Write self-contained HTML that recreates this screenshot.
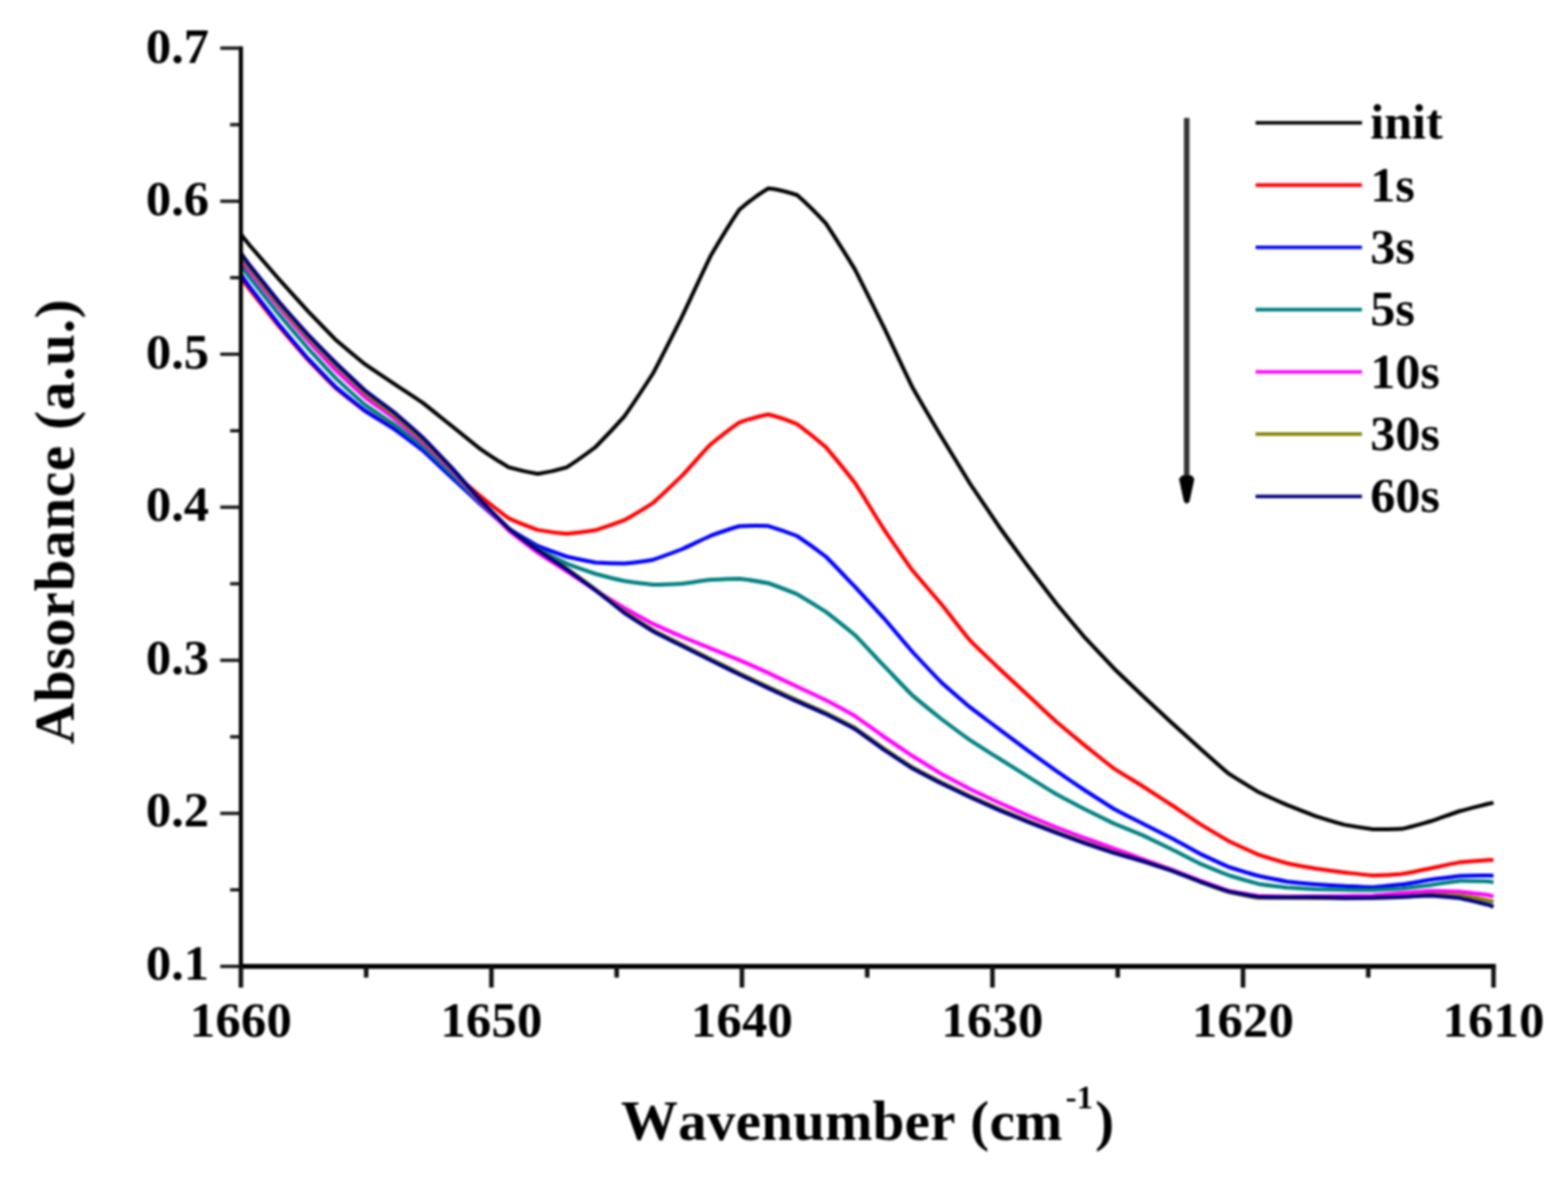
<!DOCTYPE html>
<html lang="en">
<head>
<meta charset="utf-8">
<style>
html,body{margin:0;padding:0;background:#fff;}
body{width:1596px;height:1206px;overflow:hidden;position:relative;}
svg{display:block;position:absolute;left:0;top:0;filter:blur(1.2px);}
text{font-family:"Liberation Serif","DejaVu Serif",serif;font-weight:bold;fill:#000;font-kerning:none;}
.tick{font-size:51.5px;}
.title{font-size:58px;}
.leg{font-size:51px;}
</style>
</head>
<body>
<svg width="1596" height="1206" viewBox="0 0 1596 1206">
<rect x="0" y="0" width="1596" height="1206" fill="#ffffff"/>

<g fill="none" stroke-width="4.0" stroke-linejoin="round" stroke-linecap="butt">
<path stroke="#000000" d="M245.4,238.8C248.3,242.4 251.3,246.1 254.2,249.7C264.0,261.0 273.8,272.4 283.6,283.7C293.3,294.6 303.1,305.4 312.9,316.2C322.7,326.3 332.4,336.5 342.2,346.3C352.0,354.7 361.7,362.8 371.5,370.7C381.3,377.5 391.1,383.8 400.8,390.4C410.6,396.9 420.4,403.2 430.2,409.9C439.9,417.5 449.7,425.5 459.5,433.3C469.3,441.2 479.0,449.3 488.8,456.9C498.6,463.4 508.3,470.1 518.1,475.7C527.9,478.5 537.7,480.8 547.4,482.3C557.2,480.8 567.0,478.6 576.8,475.6C586.5,469.5 596.3,462.4 606.1,455.0C615.9,445.2 625.6,434.9 635.4,423.9C645.2,409.9 654.9,395.3 664.7,380.0C674.5,361.6 684.3,342.0 694.0,322.6C703.8,302.1 713.6,280.3 723.4,260.3C733.1,243.8 742.9,227.6 752.7,213.2C762.5,204.7 772.2,197.5 782.0,191.7C791.8,192.6 801.5,195.2 811.3,198.5C821.1,207.0 830.9,216.8 840.6,227.3C850.4,242.0 860.2,257.8 870.0,273.9C879.7,292.8 889.5,312.7 899.3,332.4C909.1,352.7 918.8,374.0 928.6,394.0C938.4,411.2 948.1,427.4 957.9,444.0C967.7,460.1 977.5,476.2 987.2,492.0C997.0,506.7 1006.8,521.1 1016.6,535.5C1026.3,549.1 1036.1,562.4 1045.9,575.8C1055.7,588.7 1065.4,601.6 1075.2,614.3C1085.0,626.1 1094.7,637.7 1104.5,649.2C1114.3,659.7 1124.1,670.0 1133.8,680.2C1143.6,689.7 1153.4,698.9 1163.2,708.2C1172.9,717.3 1182.7,726.4 1192.5,735.5C1202.3,744.4 1212.0,753.1 1221.8,761.9C1231.6,770.5 1241.3,779.5 1251.1,787.7C1260.9,794.1 1270.7,799.9 1280.4,805.7C1290.2,810.4 1300.0,814.8 1309.8,819.2C1319.5,823.1 1329.3,826.9 1339.1,830.6C1348.9,833.7 1358.6,836.7 1368.4,839.4C1378.2,841.2 1387.9,842.7 1397.7,844.0C1407.5,844.1 1417.3,844.1 1427.0,843.6C1436.8,841.4 1446.6,838.5 1456.4,835.8C1466.1,832.5 1475.9,828.8 1485.7,825.5C1495.5,822.8 1505.2,820.5 1515.0,818.0C1516.7,817.6 1518.5,817.3 1520.2,817.0"/>
<path stroke="#ff0000" d="M245.4,282.5C248.3,286.6 251.3,290.8 254.2,294.8C264.0,307.2 273.8,319.5 283.6,331.7C293.3,343.1 303.1,354.5 312.9,365.6C322.7,375.8 332.4,385.9 342.2,395.5C352.0,403.5 361.7,410.9 371.5,418.3C381.3,424.4 391.1,429.8 400.8,435.8C410.6,442.4 420.4,449.2 430.2,456.1C439.9,463.8 449.7,471.8 459.5,479.7C469.3,488.0 479.0,496.6 488.8,504.9C498.6,512.6 508.3,520.6 518.1,527.6C527.9,532.1 537.7,535.8 547.4,539.4C557.2,541.1 567.0,542.4 576.8,543.3C586.5,542.4 596.3,541.1 606.1,539.6C615.9,536.5 625.6,533.2 635.4,529.4C645.2,523.9 654.9,518.2 664.7,511.8C674.5,503.2 684.3,493.8 694.0,484.4C703.8,473.9 713.6,462.4 723.4,452.2C733.1,444.3 742.9,436.6 752.7,429.9C762.5,426.4 772.2,423.6 782.0,421.8C791.8,424.1 801.5,427.6 811.3,431.6C821.1,438.8 830.9,446.7 840.6,455.1C850.4,466.5 860.2,478.6 870.0,491.2C879.7,506.2 889.5,522.6 899.3,538.0C909.1,552.3 918.8,566.6 928.6,580.3C938.4,592.1 948.1,603.0 957.9,614.6C967.7,626.8 977.5,639.7 987.2,651.6C997.0,661.5 1006.8,670.6 1016.6,680.0C1026.3,689.2 1036.1,698.2 1045.9,707.2C1055.7,716.3 1065.4,725.6 1075.2,734.5C1085.0,742.8 1094.7,750.9 1104.5,758.9C1114.3,766.7 1124.1,774.6 1133.8,782.1C1143.6,788.4 1153.4,794.1 1163.2,800.2C1172.9,806.5 1182.7,812.9 1192.5,819.2C1202.3,825.7 1212.0,832.5 1221.8,838.9C1231.6,844.8 1241.3,850.6 1251.1,856.2C1260.9,860.8 1270.7,865.3 1280.4,869.6C1290.2,872.8 1300.0,875.7 1309.8,878.5C1319.5,880.6 1329.3,882.3 1339.1,884.1C1348.9,885.5 1358.6,886.7 1368.4,887.9C1378.2,889.0 1387.9,890.2 1397.7,891.0C1407.5,890.7 1417.3,890.2 1427.0,889.4C1436.8,887.7 1446.6,885.7 1456.4,883.7C1466.1,881.7 1475.9,879.4 1485.7,877.6C1495.5,876.6 1505.2,876.0 1515.0,875.3C1516.7,875.2 1518.5,875.3 1520.2,875.3"/>
<path stroke="#0000ff" d="M245.4,279.5C248.3,283.7 251.3,288.0 254.2,292.1C264.0,304.8 273.8,317.4 283.6,329.8C293.3,341.5 303.1,352.9 312.9,364.2C322.7,374.5 332.4,384.6 342.2,394.4C352.0,402.6 361.7,410.3 371.5,418.0C381.3,424.4 391.1,430.2 400.8,436.5C410.6,443.7 420.4,450.9 430.2,458.4C439.9,467.3 449.7,476.7 459.5,485.8C469.3,494.9 479.0,504.0 488.8,512.9C498.6,521.4 508.3,530.2 518.1,538.3C527.9,544.5 537.7,550.2 547.4,555.7C557.2,559.6 567.0,563.1 576.8,566.5C586.5,568.7 596.3,570.7 606.1,572.5C615.9,573.1 625.6,573.5 635.4,573.6C645.2,572.5 654.9,571.3 664.7,569.7C674.5,566.4 684.3,562.7 694.0,559.0C703.8,554.5 713.6,549.6 723.4,545.2C733.1,541.7 742.9,538.3 752.7,535.5C762.5,535.0 772.2,534.9 782.0,535.3C791.8,538.2 801.5,541.6 811.3,545.5C821.1,552.0 830.9,559.0 840.6,566.5C850.4,576.2 860.2,586.7 870.0,596.9C879.7,607.5 889.5,618.1 899.3,628.8C909.1,640.2 918.8,652.0 928.6,663.3C938.4,673.8 948.1,684.2 957.9,694.2C967.7,703.0 977.5,711.4 987.2,719.7C997.0,727.2 1006.8,734.4 1016.6,741.8C1026.3,749.0 1036.1,756.3 1045.9,763.6C1055.7,770.6 1065.4,777.7 1075.2,784.7C1085.0,791.4 1094.7,797.9 1104.5,804.5C1114.3,810.8 1124.1,817.1 1133.8,823.2C1143.6,828.4 1153.4,833.3 1163.2,838.3C1172.9,843.2 1182.7,848.0 1192.5,853.0C1202.3,858.3 1212.0,863.9 1221.8,869.1C1231.6,873.7 1241.3,878.3 1251.1,882.5C1260.9,885.7 1270.7,888.5 1280.4,891.3C1290.2,893.4 1300.0,895.4 1309.8,897.2C1319.5,898.2 1329.3,899.1 1339.1,899.9C1348.9,900.6 1358.6,901.2 1368.4,901.8C1378.2,902.3 1387.9,902.9 1397.7,903.1C1407.5,902.4 1417.3,901.2 1427.0,900.1C1436.8,898.6 1446.6,896.8 1456.4,895.2C1466.1,893.9 1475.9,892.5 1485.7,891.4C1495.5,891.1 1505.2,891.1 1515.0,891.0C1516.7,891.0 1518.5,891.1 1520.2,891.2"/>
<path stroke="#008080" d="M245.4,270.5C248.3,274.5 251.3,278.6 254.2,282.5C264.0,294.9 273.8,307.2 283.6,319.4C293.3,331.0 303.1,342.5 312.9,353.8C322.7,364.5 332.4,375.2 342.2,385.4C352.0,394.5 361.7,403.5 371.5,412.0C381.3,418.9 391.1,425.0 400.8,431.6C410.6,439.1 420.4,446.5 430.2,454.3C439.9,463.4 449.7,472.9 459.5,482.3C469.3,491.9 479.0,501.8 488.8,511.4C498.6,520.5 508.3,529.8 518.1,538.6C527.9,545.7 537.7,552.4 547.4,558.8C557.2,564.0 567.0,568.9 576.8,573.6C586.5,577.3 596.3,580.7 606.1,584.0C615.9,586.6 625.6,589.1 635.4,591.3C645.2,592.7 654.9,594.0 664.7,595.0C674.5,594.9 684.3,594.5 694.0,594.0C703.8,592.8 713.6,591.2 723.4,590.0C733.1,589.5 742.9,589.0 752.7,588.9C762.5,590.2 772.2,591.6 782.0,593.5C791.8,596.9 801.5,600.7 811.3,604.7C821.1,610.4 830.9,616.4 840.6,622.6C850.4,630.2 860.2,638.0 870.0,646.2C879.7,656.1 889.5,666.9 899.3,677.2C909.1,687.3 918.8,697.8 928.6,707.6C938.4,715.9 948.1,723.7 957.9,731.5C967.7,738.9 977.5,746.2 987.2,753.2C997.0,759.6 1006.8,765.6 1016.6,771.8C1026.3,777.9 1036.1,784.0 1045.9,790.1C1055.7,796.2 1065.4,802.3 1075.2,808.3C1085.0,813.6 1094.7,818.7 1104.5,823.8C1114.3,828.6 1124.1,833.4 1133.8,838.1C1143.6,842.2 1153.4,846.0 1163.2,850.1C1172.9,854.7 1182.7,859.6 1192.5,864.3C1202.3,869.2 1212.0,874.3 1221.8,879.1C1231.6,883.2 1241.3,887.2 1251.1,891.0C1260.9,894.0 1270.7,896.8 1280.4,899.4C1290.2,900.9 1300.0,902.0 1309.8,903.2C1319.5,903.9 1329.3,904.4 1339.1,904.9C1348.9,905.2 1358.6,905.4 1368.4,905.6C1378.2,905.7 1387.9,905.8 1397.7,905.8C1407.5,905.3 1417.3,904.8 1427.0,904.2C1436.8,903.1 1446.6,901.9 1456.4,900.7C1466.1,899.3 1475.9,897.6 1485.7,896.4C1495.5,896.3 1505.2,896.7 1515.0,897.0C1516.7,897.1 1518.5,897.5 1520.2,897.7"/>
<path stroke="#ff00ff" d="M245.4,264.5C248.3,268.4 251.3,272.3 254.2,276.2C264.0,288.2 273.8,300.3 283.6,312.2C293.3,323.6 303.1,334.9 312.9,346.1C322.7,356.7 332.4,367.2 342.2,377.4C352.0,386.6 361.7,395.6 371.5,404.3C381.3,411.6 391.1,418.2 400.8,425.4C410.6,433.5 420.4,441.7 430.2,450.1C439.9,459.5 449.7,469.0 459.5,478.7C469.3,489.1 479.0,499.9 488.8,510.4C498.6,520.4 508.3,530.6 518.1,540.2C527.9,548.0 537.7,555.2 547.4,562.5C557.2,568.9 567.0,574.9 576.8,581.2C586.5,587.7 596.3,594.3 606.1,600.8C615.9,606.8 625.6,612.8 635.4,618.7C645.2,624.2 654.9,629.6 664.7,634.9C674.5,639.4 684.3,643.7 694.0,648.0C703.8,652.0 713.6,655.9 723.4,659.8C733.1,663.8 742.9,667.7 752.7,671.8C762.5,676.1 772.2,680.5 782.0,684.9C791.8,689.5 801.5,694.2 811.3,698.8C821.1,703.4 830.9,707.9 840.6,712.6C850.4,717.8 860.2,723.0 870.0,728.6C879.7,735.4 889.5,742.6 899.3,749.5C909.1,756.2 918.8,762.8 928.6,769.3C938.4,775.4 948.1,781.5 957.9,787.4C967.7,792.7 977.5,797.9 987.2,803.0C997.0,807.7 1006.8,812.2 1016.6,816.8C1026.3,821.2 1036.1,825.6 1045.9,829.9C1055.7,834.0 1065.4,838.0 1075.2,842.0C1085.0,845.7 1094.7,849.3 1104.5,853.0C1114.3,856.5 1124.1,860.1 1133.8,863.6C1143.6,867.2 1153.4,870.8 1163.2,874.4C1172.9,877.9 1182.7,881.4 1192.5,884.9C1202.3,888.7 1212.0,892.6 1221.8,896.4C1231.6,899.9 1241.3,903.5 1251.1,906.7C1260.9,908.6 1270.7,910.3 1280.4,911.8C1290.2,912.2 1300.0,912.2 1309.8,912.4C1319.5,912.4 1329.3,912.3 1339.1,912.2C1348.9,912.2 1358.6,912.1 1368.4,912.0C1378.2,911.8 1387.9,911.7 1397.7,911.4C1407.5,910.7 1417.3,909.8 1427.0,909.0C1436.8,908.2 1446.6,907.3 1456.4,906.7C1466.1,906.8 1475.9,907.1 1485.7,907.5C1495.5,908.5 1505.2,909.8 1515.0,911.0C1516.7,911.4 1518.5,911.9 1520.2,912.3"/>
<path stroke="#808000" d="M245.4,261.0C248.3,265.0 251.3,269.1 254.2,273.1C264.0,285.3 273.8,297.5 283.6,309.4C293.3,320.6 303.1,331.6 312.9,342.4C322.7,352.5 332.4,362.4 342.2,372.2C352.0,381.5 361.7,390.8 371.5,399.8C381.3,407.4 391.1,414.3 400.8,421.9C410.6,430.3 420.4,438.8 430.2,447.6C439.9,457.2 449.7,467.1 459.5,477.0C469.3,487.6 479.0,498.6 488.8,509.2C498.6,519.0 508.3,528.8 518.1,538.1C527.9,545.6 537.7,552.5 547.4,559.5C557.2,566.0 567.0,572.2 576.8,578.7C586.5,585.6 596.3,592.6 606.1,599.8C615.9,607.3 625.6,615.2 635.4,622.7C645.2,629.1 654.9,635.2 664.7,641.2C674.5,646.4 684.3,651.2 694.0,656.1C703.8,661.0 713.6,665.9 723.4,670.7C733.1,675.5 742.9,680.4 752.7,685.2C762.5,689.9 772.2,694.5 782.0,699.1C791.8,703.6 801.5,708.2 811.3,712.6C821.1,716.9 830.9,721.1 840.6,725.5C850.4,730.4 860.2,735.3 870.0,740.6C879.7,747.3 889.5,754.6 899.3,761.5C909.1,768.0 918.8,774.6 928.6,780.8C938.4,786.1 948.1,791.1 957.9,796.1C967.7,800.8 977.5,805.4 987.2,810.0C997.0,814.4 1006.8,818.8 1016.6,823.1C1026.3,827.2 1036.1,831.2 1045.9,835.3C1055.7,839.1 1065.4,842.9 1075.2,846.7C1085.0,850.3 1094.7,854.0 1104.5,857.5C1114.3,860.9 1124.1,864.2 1133.8,867.5C1143.6,870.4 1153.4,873.2 1163.2,876.1C1172.9,879.3 1182.7,882.6 1192.5,885.9C1202.3,889.7 1212.0,893.8 1221.8,897.6C1231.6,901.2 1241.3,904.9 1251.1,908.1C1260.9,910.2 1270.7,912.1 1280.4,913.7C1290.2,914.0 1300.0,913.8 1309.8,913.8C1319.5,913.8 1329.3,913.8 1339.1,913.9C1348.9,914.0 1358.6,914.1 1368.4,914.2C1378.2,914.1 1387.9,914.0 1397.7,913.9C1407.5,913.6 1417.3,913.2 1427.0,912.8C1436.8,912.1 1446.6,911.2 1456.4,910.6C1466.1,910.8 1475.9,911.1 1485.7,911.6C1495.5,913.0 1505.2,914.7 1515.0,916.4C1516.7,916.8 1518.5,917.5 1520.2,918.0"/>
<path stroke="#000080" d="M245.4,257.8C248.3,261.9 251.3,266.1 254.2,270.1C264.0,282.4 273.8,294.7 283.6,306.8C293.3,318.0 303.1,329.0 312.9,339.9C322.7,350.0 332.4,359.9 342.2,369.7C352.0,379.0 361.7,388.3 371.5,397.2C381.3,404.9 391.1,411.8 400.8,419.3C410.6,427.8 420.4,436.3 430.2,445.2C439.9,455.1 449.7,465.4 459.5,475.7C469.3,486.6 479.0,497.9 488.8,508.8C498.6,518.7 508.3,528.7 518.1,538.1C527.9,545.7 537.7,552.8 547.4,559.9C557.2,566.5 567.0,572.7 576.8,579.3C586.5,586.3 596.3,593.4 606.1,600.6C615.9,608.2 625.6,616.3 635.4,623.8C645.2,630.3 654.9,636.4 664.7,642.5C674.5,647.6 684.3,652.4 694.0,657.3C703.8,662.2 713.6,667.1 723.4,672.0C733.1,676.8 742.9,681.7 752.7,686.5C762.5,691.2 772.2,695.8 782.0,700.4C791.8,704.9 801.5,709.5 811.3,713.9C821.1,718.2 830.9,722.4 840.6,726.8C850.4,731.7 860.2,736.6 870.0,741.9C879.7,748.6 889.5,755.9 899.3,762.8C909.1,769.3 918.8,775.8 928.6,782.1C938.4,787.4 948.1,792.3 957.9,797.3C967.7,802.0 977.5,806.6 987.2,811.2C997.0,815.6 1006.8,820.0 1016.6,824.3C1026.3,828.3 1036.1,832.4 1045.9,836.4C1055.7,840.2 1065.4,844.0 1075.2,847.7C1085.0,851.3 1094.7,854.8 1104.5,858.3C1114.3,861.6 1124.1,864.9 1133.8,868.1C1143.6,871.0 1153.4,873.6 1163.2,876.5C1172.9,879.6 1182.7,882.8 1192.5,886.1C1202.3,889.7 1212.0,893.6 1221.8,897.3C1231.6,900.8 1241.3,904.3 1251.1,907.4C1260.9,909.5 1270.7,911.3 1280.4,912.8C1290.2,913.2 1300.0,913.1 1309.8,913.2C1319.5,913.2 1329.3,913.2 1339.1,913.2C1348.9,913.4 1358.6,913.7 1368.4,913.9C1378.2,913.9 1387.9,913.9 1397.7,913.8C1407.5,913.5 1417.3,913.2 1427.0,912.9C1436.8,912.5 1446.6,911.9 1456.4,911.6C1466.1,912.3 1475.9,913.1 1485.7,914.1C1495.5,916.1 1505.2,918.5 1515.0,920.8C1516.7,921.4 1518.5,922.2 1520.2,922.9"/>
</g>
<g stroke="#000" stroke-width="4.2" fill="none" stroke-linecap="butt">
<line x1="245.2" y1="47.35" x2="245.2" y2="985.6"/>
<line x1="243.1" y1="983.5" x2="1522.5" y2="983.5" stroke-width="4.8"/>
</g>
<g stroke="#111" stroke-width="3.3" fill="none" stroke-linecap="butt">
<line x1="224.2" y1="49.0" x2="245.2" y2="49.0"/>
<line x1="234.2" y1="126.9" x2="245.2" y2="126.9"/>
<line x1="224.2" y1="204.8" x2="245.2" y2="204.8"/>
<line x1="234.2" y1="282.6" x2="245.2" y2="282.6"/>
<line x1="224.2" y1="360.5" x2="245.2" y2="360.5"/>
<line x1="234.2" y1="438.4" x2="245.2" y2="438.4"/>
<line x1="224.2" y1="516.2" x2="245.2" y2="516.2"/>
<line x1="234.2" y1="594.1" x2="245.2" y2="594.1"/>
<line x1="224.2" y1="672.0" x2="245.2" y2="672.0"/>
<line x1="234.2" y1="749.9" x2="245.2" y2="749.9"/>
<line x1="224.2" y1="827.8" x2="245.2" y2="827.8"/>
<line x1="234.2" y1="905.6" x2="245.2" y2="905.6"/>
<line x1="224.2" y1="983.5" x2="245.2" y2="983.5"/>
<line x1="245.2" y1="983.5" x2="245.2" y2="1005.1" stroke-width="4.6"/>
<line x1="372.7" y1="983.5" x2="372.7" y2="994.9" stroke-width="4.6"/>
<line x1="500.2" y1="983.5" x2="500.2" y2="1005.1" stroke-width="4.6"/>
<line x1="627.7" y1="983.5" x2="627.7" y2="994.9" stroke-width="4.6"/>
<line x1="755.2" y1="983.5" x2="755.2" y2="1005.1" stroke-width="4.6"/>
<line x1="882.7" y1="983.5" x2="882.7" y2="994.9" stroke-width="4.6"/>
<line x1="1010.2" y1="983.5" x2="1010.2" y2="1005.1" stroke-width="4.6"/>
<line x1="1137.7" y1="983.5" x2="1137.7" y2="994.9" stroke-width="4.6"/>
<line x1="1265.2" y1="983.5" x2="1265.2" y2="1005.1" stroke-width="4.6"/>
<line x1="1392.7" y1="983.5" x2="1392.7" y2="994.9" stroke-width="4.6"/>
<line x1="1520.2" y1="983.5" x2="1520.2" y2="1005.1" stroke-width="4.6"/>
</g>
<text class="tick" x="148.4" y="63.9">0.7</text>
<text class="tick" x="148.4" y="219.4">0.6</text>
<text class="tick" x="148.4" y="374.9">0.5</text>
<text class="tick" x="148.4" y="530.4">0.4</text>
<text class="tick" x="148.4" y="685.9">0.3</text>
<text class="tick" x="148.4" y="841.4">0.2</text>
<text class="tick" x="148.4" y="996.9">0.1</text>
<text class="tick" x="245.2" y="1055.3" text-anchor="middle" letter-spacing="0.2">1660</text>
<text class="tick" x="500.2" y="1055.3" text-anchor="middle" letter-spacing="0.2">1650</text>
<text class="tick" x="755.2" y="1055.3" text-anchor="middle" letter-spacing="0.2">1640</text>
<text class="tick" x="1010.2" y="1055.3" text-anchor="middle" letter-spacing="0.2">1630</text>
<text class="tick" x="1265.2" y="1055.3" text-anchor="middle" letter-spacing="0.2">1620</text>
<text class="tick" x="1520.2" y="1055.3" text-anchor="middle" letter-spacing="0.2">1610</text>
<text class="title" x="632" y="1160.3" letter-spacing="0.25">Wavenumber (cm<tspan font-size="33" dy="-32" dx="3">-1</tspan><tspan dy="32" dx="2">)</tspan></text>
<text class="title" transform="translate(75,757.3) rotate(-90)" letter-spacing="0.8">Absorbance (a.u.)</text>
<line x1="1278" y1="125.0" x2="1386.3" y2="125.0" stroke="#000000" stroke-width="3.6"/>
<text class="leg" x="1394.8" y="141.2">init</text>
<line x1="1278" y1="188.4" x2="1386.3" y2="188.4" stroke="#ff0000" stroke-width="3.6"/>
<text class="leg" x="1394.8" y="204.6">1s</text>
<line x1="1278" y1="251.7" x2="1386.3" y2="251.7" stroke="#0000ff" stroke-width="3.6"/>
<text class="leg" x="1394.8" y="267.9">3s</text>
<line x1="1278" y1="315.1" x2="1386.3" y2="315.1" stroke="#008080" stroke-width="3.6"/>
<text class="leg" x="1394.8" y="331.3">5s</text>
<line x1="1278" y1="378.5" x2="1386.3" y2="378.5" stroke="#ff00ff" stroke-width="3.6"/>
<text class="leg" x="1394.8" y="394.7">10s</text>
<line x1="1278" y1="441.8" x2="1386.3" y2="441.8" stroke="#808000" stroke-width="3.6"/>
<text class="leg" x="1394.8" y="458.0">30s</text>
<line x1="1278" y1="505.2" x2="1386.3" y2="505.2" stroke="#000080" stroke-width="3.6"/>
<text class="leg" x="1394.8" y="521.4">60s</text>
<line x1="1207.9" y1="120" x2="1207.9" y2="488" stroke="#333" stroke-width="5.6"/>
<polygon points="1203.2,484.2 1212.8,484.2 1215.2,487.4 1210.2,510.6 1207.9,512.2 1205.6,510.6 1200.6,487.4" fill="#000" stroke="#000" stroke-width="1" stroke-linejoin="round"/>
</svg>
</body>
</html>
